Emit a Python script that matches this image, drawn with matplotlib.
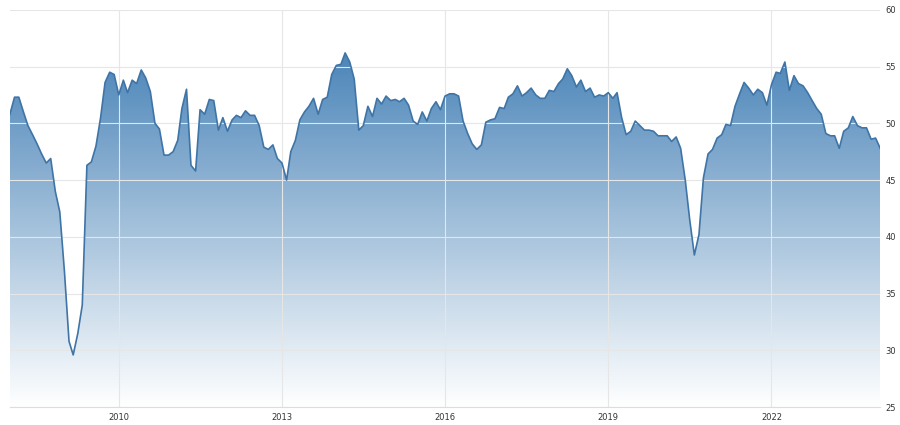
import numpy as np
import matplotlib
matplotlib.use("Agg")
import matplotlib.pyplot as plt
import matplotlib.dates as mdates
from matplotlib.colors import LinearSegmentedColormap
import pandas as pd

values = [
 50.8,52.3,52.3,51.0,49.8,49.0,48.2,47.3,46.5,46.9,44.0,42.2,
 37.0,30.8,29.6,31.5,34.0,46.3,46.6,48.0,50.5,53.6,54.5,54.3,
 52.5,53.8,52.7,53.8,53.5,54.7,54.0,52.8,50.0,49.5,47.2,47.2,
 47.5,48.5,51.3,53.0,46.3,45.8,51.2,50.8,52.1,52.0,49.4,50.5,
 49.3,50.3,50.7,50.5,51.1,50.7,50.7,49.8,47.9,47.7,48.1,46.9,
 46.5,45.0,47.5,48.5,50.3,51.0,51.5,52.2,50.8,52.1,52.3,54.3,
 55.1,55.2,56.2,55.4,53.9,49.4,49.8,51.5,50.6,52.2,51.7,52.4,
 52.0,52.1,51.9,52.2,51.6,50.2,49.9,51.0,50.2,51.3,51.9,51.2,
 52.4,52.6,52.6,52.4,50.2,49.1,48.2,47.7,48.1,50.1,50.3,50.4,
 51.4,51.3,52.3,52.6,53.3,52.4,52.7,53.1,52.5,52.2,52.2,52.9,
 52.8,53.5,53.9,54.8,54.2,53.2,53.8,52.8,53.1,52.3,52.5,52.4,
 52.7,52.2,52.7,50.5,49.0,49.3,50.2,49.8,49.4,49.4,49.3,48.9,
 48.9,48.9,48.4,48.8,47.8,45.0,41.5,38.4,40.2,45.2,47.3,47.7,
 48.7,49.0,49.9,49.8,51.5,52.6,53.6,53.1,52.5,53.0,52.7,51.6,
 53.4,54.5,54.4,55.4,52.9,54.2,53.5,53.3,52.7,52.0,51.3,50.8,
 49.1,48.9,48.9,47.8,49.3,49.6,50.6,49.8,49.6,49.6,48.6,48.7,
 47.8,
]
dates = pd.date_range("2008-01-01", periods=len(values), freq="MS")
yticks = [25, 30, 35, 40, 45, 50, 55, 60]
xtick_years = [2010, 2013, 2016, 2019, 2022]

fig = plt.figure(figsize=(9, 4.25), dpi=100)
ax = fig.add_axes([0.011, 0.042, 0.967, 0.935])
x = mdates.date2num(dates)
y = np.array(values)

cmap = LinearSegmentedColormap.from_list("g", ["#ffffff", "#4a84b8"])
grad = np.linspace(0, 1, 256).reshape(-1, 1)
im = ax.imshow(grad, aspect="auto", cmap=cmap, origin="lower",
               extent=[x[0], x[-1], 25, 56.5], zorder=1)
poly = ax.fill_between(x, y, 25, color="none")
path = poly.get_paths()[0]
im.set_clip_path(path, transform=ax.transData)
ax.plot(x, y, color="#3f74a6", lw=1.2, zorder=3)

ax.set_xlim(x[0], x[-1])
ax.set_ylim(25, 60)
ax.set_yticks(yticks)
ax.set_xticks([mdates.date2num(pd.Timestamp(f"{yr}-01-01")) for yr in xtick_years])
ax.set_xticklabels([str(yr) for yr in xtick_years])
ax.yaxis.tick_right()
ax.tick_params(axis="both", length=0, labelsize=6, colors="#333333", pad=4)
ax.grid(True, color="#e6e6e6", lw=0.8, zorder=0)
for s in ax.spines.values():
    s.set_visible(False)
ax.spines["bottom"].set_visible(True)
ax.spines["bottom"].set_color("#dddddd")
fig.savefig("out.png", dpi=100)
